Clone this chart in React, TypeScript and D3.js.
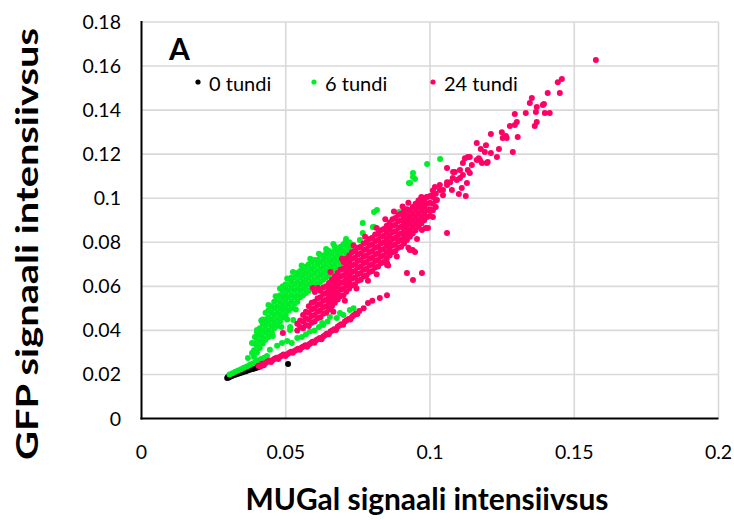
import React from "react";
import * as d3 from "d3";

// ---------- axis ticks ----------
const xTicks = [0, 0.05, 0.1, 0.15, 0.2];
const xTickLabels = ["0", "0.05", "0.1", "0.15", "0.2"];
const yTicks = [0, 0.02, 0.04, 0.06, 0.08, 0.1, 0.12, 0.14, 0.16, 0.18];
const yTickLabels = ["0", "0.02", "0.04", "0.06", "0.08", "0.1", "0.12", "0.14", "0.16", "0.18"];

const seriesNames = ["0 tundi", "6 tundi", "24 tundi"];
const seriesColors = ["#000000", "#00EE2A", "#FF0066"];

// ---------- 0 tundi (black) ----------
const black0: [number, number][] = [
  [0.0297, 0.0184], [0.03, 0.019], [0.0303, 0.0186], [0.0307, 0.0194], [0.0312, 0.0192],
  [0.0318, 0.0196], [0.0325, 0.0199], [0.0332, 0.0202], [0.034, 0.0205], [0.0348, 0.0209],
  [0.0355, 0.0212], [0.0362, 0.0215], [0.037, 0.0219], [0.0378, 0.0222], [0.0386, 0.0225],
  [0.0394, 0.0228], [0.0402, 0.0232], [0.041, 0.0236], [0.0508, 0.0247],
];

// ---------- 6 tundi (green) ----------
const greenBottom: [number, number][] = [
  [0.0305, 0.02], [0.0315, 0.0205], [0.0325, 0.0212], [0.0335, 0.0218], [0.0345, 0.0224],
  [0.0355, 0.023], [0.0365, 0.0236], [0.0375, 0.0243], [0.0385, 0.025], [0.0395, 0.0257],
  [0.0405, 0.0263], [0.0415, 0.027], [0.0425, 0.0276], [0.0435, 0.0284],
  [0.0383, 0.0343], [0.0393, 0.037], [0.0404, 0.0325], [0.0428, 0.0356], [0.04, 0.0402],
  [0.0452, 0.0388], [0.0383, 0.0297], [0.0369, 0.0275],
];
const greenArmRows: [number, number[]][] = [
  [0.039, [0.028, 0.031, 0.034]],
  [0.04, [0.03, 0.033, 0.036, 0.039]],
  [0.041, [0.032, 0.035, 0.038, 0.041]],
  [0.042, [0.034, 0.037, 0.04, 0.043, 0.045]],
  [0.043, [0.036, 0.039, 0.042, 0.045, 0.048]],
  [0.044, [0.037, 0.04, 0.043, 0.046, 0.049]],
  [0.045, [0.039, 0.042, 0.045, 0.048, 0.051]],
  [0.046, [0.041, 0.044, 0.047, 0.05, 0.053]],
  [0.047, [0.042, 0.045, 0.048, 0.051, 0.054]],
  [0.048, [0.044, 0.047, 0.05, 0.053, 0.056]],
  [0.049, [0.046, 0.049, 0.052, 0.055, 0.058, 0.06]],
  [0.05, [0.047, 0.05, 0.053, 0.056, 0.059, 0.061]],
  [0.051, [0.049, 0.052, 0.055, 0.058, 0.061]],
  [0.052, [0.05, 0.053, 0.056, 0.059, 0.062, 0.064]],
  [0.053, [0.052, 0.055, 0.058, 0.061, 0.064]],
  [0.054, [0.053, 0.056, 0.059, 0.062, 0.065, 0.066]],
  [0.055, [0.055, 0.058, 0.061, 0.064, 0.067]],
  [0.056, [0.056, 0.059, 0.062, 0.065, 0.068]],
  [0.057, [0.057, 0.06, 0.063, 0.066, 0.069]],
  [0.058, [0.058, 0.061, 0.064, 0.067, 0.07]],
  [0.059, [0.059, 0.062, 0.065, 0.068, 0.071]],
  [0.06, [0.06, 0.063, 0.066, 0.069, 0.072]],
  [0.061, [0.061, 0.064, 0.067, 0.07, 0.072]],
  [0.062, [0.062, 0.065, 0.068, 0.071, 0.074]],
  [0.063, [0.063, 0.066, 0.069, 0.072, 0.074]],
  [0.064, [0.064, 0.067, 0.07, 0.073, 0.075]],
  [0.065, [0.065, 0.068, 0.071, 0.074, 0.076]],
  [0.066, [0.066, 0.069, 0.072, 0.075]],
  [0.067, [0.067, 0.07, 0.073, 0.076, 0.078]],
  [0.068, [0.068, 0.071, 0.074, 0.077]],
  [0.069, [0.069, 0.072, 0.075, 0.078]],
  [0.07, [0.07, 0.073, 0.076, 0.079]],
  [0.071, [0.072, 0.075, 0.078, 0.08]],
  [0.072, [0.074, 0.077, 0.08]],
  [0.073, [0.076, 0.079]],
];
const greenArmEdge: [number, number][] = [
  [0.0415, 0.0445], [0.044, 0.0515], [0.0465, 0.0555], [0.048, 0.059], [0.0505, 0.0635],
  [0.0525, 0.0665], [0.0555, 0.0695], [0.0585, 0.0725], [0.0615, 0.0748], [0.064, 0.077],
  [0.0665, 0.0792], [0.0455, 0.0375], [0.0485, 0.0415], [0.0505, 0.045], [0.0535, 0.0495],
];
const greenLowerBranch: [number, number][] = [
  [0.0445, 0.0312], [0.047, 0.033], [0.0487, 0.0343], [0.0505, 0.0352], [0.0521, 0.0343],
  [0.054, 0.0365], [0.0556, 0.037], [0.057, 0.0382], [0.0584, 0.0395], [0.06, 0.04],
  [0.0615, 0.0415], [0.0626, 0.0433], [0.063, 0.0424], [0.0645, 0.044], [0.0653, 0.0461],
  [0.0677, 0.0456], [0.0688, 0.0479], [0.07, 0.047], [0.0722, 0.0492], [0.0735, 0.05],
  [0.0515, 0.0415], [0.0526, 0.0447], [0.0464, 0.0438], [0.0436, 0.0447], [0.0515, 0.0402],
];
const greenSparse: [number, number][] = [
  [0.0931, 0.1069], [0.0941, 0.1096], [0.0816, 0.0946], [0.0806, 0.0937], [0.0767, 0.0887],
  [0.0767, 0.0842], [0.0806, 0.0869], [0.0893, 0.0937], [0.0709, 0.0815], [0.0705, 0.0797],
  [0.0688, 0.0756], [0.063, 0.0738], [0.099, 0.1155], [0.1035, 0.1178], [0.0941, 0.1114],
  [0.0927, 0.1069], [0.0948, 0.1087], [0.0757, 0.081], [0.0722, 0.0778], [0.0802, 0.0869],
];

// ---------- 24 tundi (pink) ----------
const pinkLowerLine: [number, number][] = [
  [0.0405, 0.024], [0.0418, 0.0248], [0.043, 0.0252], [0.0442, 0.0262], [0.0455, 0.0266],
  [0.0468, 0.0276], [0.048, 0.028], [0.0492, 0.029], [0.0505, 0.0292], [0.0518, 0.0303],
  [0.053, 0.0306], [0.0542, 0.0317], [0.0555, 0.0322], [0.0568, 0.0332], [0.058, 0.0336],
  [0.0592, 0.0348], [0.0605, 0.0355], [0.0618, 0.0366], [0.063, 0.0372], [0.0642, 0.0385],
  [0.0655, 0.0395], [0.0668, 0.0405], [0.068, 0.0416], [0.0692, 0.0428], [0.0705, 0.044],
  [0.0718, 0.0452], [0.073, 0.0462], [0.0742, 0.0476], [0.0755, 0.0488], [0.077, 0.05],
  [0.0785, 0.0524],
  [0.0412, 0.0236], [0.0424, 0.0242], [0.0436, 0.0258], [0.0449, 0.0256], [0.0461, 0.0271],
  [0.0474, 0.027], [0.0486, 0.0285], [0.0499, 0.0284], [0.0511, 0.0297], [0.0524, 0.0298],
  [0.0536, 0.0311], [0.0549, 0.0312], [0.0561, 0.0327], [0.0574, 0.0326], [0.0586, 0.0342],
  [0.0599, 0.0344], [0.0611, 0.036], [0.0624, 0.036], [0.0636, 0.0378], [0.0649, 0.0382],
  [0.0661, 0.04], [0.0674, 0.0402], [0.0686, 0.0422], [0.0699, 0.0426], [0.0711, 0.0446],
  [0.0724, 0.0449], [0.0736, 0.0469], [0.0748, 0.0474],
  [0.08, 0.0535], [0.0826, 0.0547], [0.0851, 0.056], [0.049, 0.0388],
];
const pinkBandRows: [number, number[]][] = [
  [0.054, [0.04, 0.043]],
  [0.055, [0.0415, 0.0445]],
  [0.056, [0.041, 0.044, 0.047]],
  [0.057, [0.0425, 0.0455, 0.0485]],
  [0.058, [0.042, 0.045, 0.048, 0.051]],
  [0.059, [0.0435, 0.0465, 0.0495, 0.0525]],
  [0.06, [0.044, 0.047, 0.05, 0.053]],
  [0.061, [0.0455, 0.0485, 0.0515, 0.0545]],
  [0.062, [0.046, 0.049, 0.052, 0.055, 0.058]],
  [0.063, [0.0475, 0.0505, 0.0535, 0.0565, 0.0595]],
  [0.064, [0.048, 0.051, 0.054, 0.057, 0.06]],
  [0.065, [0.0495, 0.0525, 0.0555, 0.0585, 0.0615]],
  [0.066, [0.051, 0.054, 0.057, 0.06, 0.063]],
  [0.067, [0.0525, 0.0555, 0.0585, 0.0615, 0.0645]],
  [0.068, [0.054, 0.057, 0.06, 0.063, 0.066]],
  [0.069, [0.0555, 0.0585, 0.0615, 0.0645, 0.0675]],
  [0.07, [0.056, 0.059, 0.062, 0.065, 0.068, 0.071]],
  [0.071, [0.0575, 0.0605, 0.0635, 0.0665, 0.0695, 0.0725]],
  [0.072, [0.059, 0.062, 0.065, 0.068, 0.071, 0.074]],
  [0.073, [0.0605, 0.0635, 0.0665, 0.0695, 0.0725, 0.0755]],
  [0.074, [0.061, 0.064, 0.067, 0.07, 0.073, 0.076]],
  [0.075, [0.0625, 0.0655, 0.0685, 0.0715, 0.0745, 0.0775]],
  [0.076, [0.063, 0.066, 0.069, 0.072, 0.075, 0.078]],
  [0.077, [0.0645, 0.0675, 0.0705, 0.0735, 0.0765, 0.0795]],
  [0.078, [0.065, 0.068, 0.071, 0.074, 0.077, 0.08]],
  [0.079, [0.0665, 0.0695, 0.0725, 0.0755, 0.0785, 0.0815]],
  [0.08, [0.067, 0.07, 0.073, 0.076, 0.079, 0.082]],
  [0.081, [0.0685, 0.0715, 0.0745, 0.0775, 0.0805, 0.0835]],
  [0.082, [0.069, 0.072, 0.075, 0.078, 0.081, 0.084]],
  [0.083, [0.0705, 0.0735, 0.0765, 0.0795, 0.0825, 0.0855]],
  [0.084, [0.071, 0.074, 0.077, 0.08, 0.083, 0.086]],
  [0.085, [0.0725, 0.0755, 0.0785, 0.0815, 0.0845, 0.0875]],
  [0.086, [0.074, 0.077, 0.08, 0.083, 0.086, 0.089]],
  [0.087, [0.0755, 0.0785, 0.0815, 0.0845, 0.0875, 0.0905]],
  [0.088, [0.076, 0.079, 0.082, 0.085, 0.088, 0.091]],
  [0.089, [0.0775, 0.0805, 0.0835, 0.0865, 0.0895, 0.0925]],
  [0.09, [0.078, 0.081, 0.084, 0.087, 0.09, 0.093]],
  [0.091, [0.0795, 0.0825, 0.0855, 0.0885, 0.0915, 0.0945]],
  [0.092, [0.081, 0.084, 0.087, 0.09, 0.093, 0.095]],
  [0.093, [0.0825, 0.0855, 0.0885, 0.0915, 0.0945]],
  [0.094, [0.084, 0.087, 0.09, 0.093, 0.096]],
  [0.095, [0.0855, 0.0885, 0.0915, 0.0945, 0.0975]],
  [0.096, [0.087, 0.09, 0.093, 0.096, 0.099]],
  [0.097, [0.0885, 0.0915, 0.0945, 0.0975, 0.1005]],
  [0.098, [0.09, 0.093, 0.096, 0.099]],
  [0.099, [0.0915, 0.0945, 0.0975, 0.1005]],
  [0.1, [0.092, 0.095, 0.098, 0.101]],
  [0.101, [0.0945, 0.0975, 0.1005, 0.1035]],
  [0.102, [0.096, 0.099, 0.102]],
];
const pinkBandEdge: [number, number][] = [
  [0.0655, 0.0665], [0.0735, 0.0785], [0.0815, 0.0865], [0.0875, 0.094], [0.0925, 0.098],
  [0.0665, 0.0485], [0.0745, 0.059], [0.0815, 0.0655], [0.0885, 0.0735], [0.0955, 0.0815],
  [0.0695, 0.0725], [0.0775, 0.0825], [0.0845, 0.0905], [0.0905, 0.0962], [0.0705, 0.0535],
  [0.0785, 0.0625], [0.0855, 0.0695], [0.0925, 0.0775], [0.0985, 0.0865],
];
const pinkSparse: [number, number][] = [
  [0.1575, 0.1627],
  [0.1457, 0.1541], [0.1443, 0.1527], [0.145, 0.1478], [0.1408, 0.1478], [0.1353, 0.1455],
  [0.1346, 0.1432], [0.137, 0.1414], [0.1395, 0.1428], [0.1391, 0.1423], [0.1398, 0.1387],
  [0.1415, 0.1387], [0.1367, 0.1391], [0.1332, 0.1387], [0.1294, 0.1382], [0.1301, 0.1346],
  [0.1294, 0.1332], [0.1277, 0.1328], [0.137, 0.1346], [0.1363, 0.1328], [0.1249, 0.13],
  [0.1263, 0.1282], [0.1252, 0.1273], [0.1266, 0.1273], [0.1211, 0.1291], [0.1304, 0.1278],
  [0.1287, 0.121], [0.1239, 0.1223], [0.1232, 0.1187], [0.1211, 0.1205], [0.119, 0.121],
  [0.1162, 0.1251], [0.1176, 0.1223], [0.118, 0.116], [0.12, 0.1164], [0.1169, 0.1182],
  [0.1138, 0.1187], [0.1121, 0.1182], [0.1162, 0.1173], [0.1145, 0.1151], [0.1114, 0.116],
  [0.1131, 0.1128], [0.1104, 0.1128], [0.1114, 0.1105], [0.1086, 0.1119], [0.1059, 0.1137],
  [0.1079, 0.1092],
  [0.1059, 0.0842], [0.0993, 0.0865], [0.0972, 0.0856], [0.101, 0.0915], [0.094, 0.0765],
  [0.0896, 0.081], [0.11, 0.1019], [0.1124, 0.101], [0.1128, 0.1069], [0.108, 0.1119],
  [0.1104, 0.1092], [0.1138, 0.1114], [0.1131, 0.1187], [0.1194, 0.1241], [0.1173, 0.1173],
  [0.1197, 0.116], [0.1059, 0.1073], [0.1034, 0.106], [0.1045, 0.1037], [0.1017, 0.1051],
  [0.093, 0.0765], [0.0948, 0.0756], [0.0851, 0.0706], [0.092, 0.066], [0.0941, 0.0629],
  [0.0972, 0.066], [0.0851, 0.0697],
  [0.101, 0.1014], [0.1034, 0.1037], [0.1059, 0.106], [0.107, 0.1073], [0.1093, 0.1083],
  [0.0965, 0.0992], [0.0989, 0.1005], [0.0955, 0.096], [0.0975, 0.0969], [0.1024, 0.0992],
  [0.1, 0.0946], [0.1045, 0.1014], [0.1076, 0.1037], [0.111, 0.1046],
  [0.0612, 0.0592], [0.0601, 0.0574], [0.0594, 0.0592],
];

const flattenRows = (rows: [number, number[]][]): [number, number][] =>
  rows.flatMap(([xv, ys]) => ys.map((yv) => [xv, yv] as [number, number]));

const FONT = "Lato, 'Open Sans', 'DejaVu Sans', sans-serif";

export default function App() {
  const x = d3.scaleLinear().domain([0, 0.2]).range([141.5, 718.5]);
  const y = d3.scaleLinear().domain([0, 0.18]).range([418.5, 22]);

  const series: [number, number][][] = [
    black0,
    [...greenBottom, ...flattenRows(greenArmRows), ...greenArmEdge, ...greenLowerBranch, ...greenSparse],
    [...pinkLowerLine, ...flattenRows(pinkBandRows), ...pinkBandEdge, ...pinkSparse],
  ];

  const legendX = [198, 314, 433];

  return (
    <svg
      width={734}
      height={520}
      style={{ position: "absolute", left: 0, top: 0, background: "#fff" }}
      fontFamily={FONT}
    >
      <rect x={0} y={0} width={734} height={520} fill="#fff" />
      {yTicks.slice(1).map((t) => (
        <line key={"h" + t} x1={x(0)} x2={x(0.2)} y1={y(t)} y2={y(t)} stroke="#d9d9d9" strokeWidth={1.6} />
      ))}
      {xTicks.slice(1).map((t) => (
        <line key={"v" + t} x1={x(t)} x2={x(t)} y1={y(0.18)} y2={y(0)} stroke="#d9d9d9" strokeWidth={1.6} />
      ))}
      {series.map((pts, si) => (
        <g key={si} fill={seriesColors[si]}>
          {pts.map((p, i) => (
            <circle key={i} cx={x(p[0])} cy={y(p[1])} r={3} />
          ))}
        </g>
      ))}
      <line x1={x(0)} x2={x(0)} y1={y(0.18) - 1} y2={y(0) + 1} stroke="#000" strokeWidth={2} />
      <line x1={x(0) - 1} x2={x(0.2)} y1={y(0)} y2={y(0)} stroke="#000" strokeWidth={2} />
      {yTicks.map((t, i) => (
        <text key={"yl" + t} x={121} y={y(t)} dy="0.36em" textAnchor="end" fontSize={19.5} fill="#000">
          {yTickLabels[i]}
        </text>
      ))}
      {xTicks.map((t, i) => (
        <text key={"xl" + t} x={x(t)} y={452} dy="0.36em" textAnchor="middle" fontSize={19.5} fill="#000">
          {xTickLabels[i]}
        </text>
      ))}
      <text x={169} y={60} fontSize={30} fontWeight={700} fill="#000">A</text>
      {seriesNames.map((n, i) => (
        <g key={n}>
          <circle cx={legendX[i]} cy={82} r={2.6} fill={seriesColors[i]} />
          <text x={legendX[i] + 11} y={91} fontSize={20} fill="#000">{n}</text>
        </g>
      ))}
      <text x={427} y={510} textAnchor="middle" fontSize={30} fontWeight={700} fill="#000"
        textLength={363} lengthAdjust="spacingAndGlyphs">
        MUGal signaali intensiivsus
      </text>
      <text transform="translate(38,244) rotate(-90)" textAnchor="middle" fontSize={31} fontWeight={700} fill="#000"
        textLength={432} lengthAdjust="spacingAndGlyphs">
        GFP signaali intensiivsus
      </text>
    </svg>
  );
}
